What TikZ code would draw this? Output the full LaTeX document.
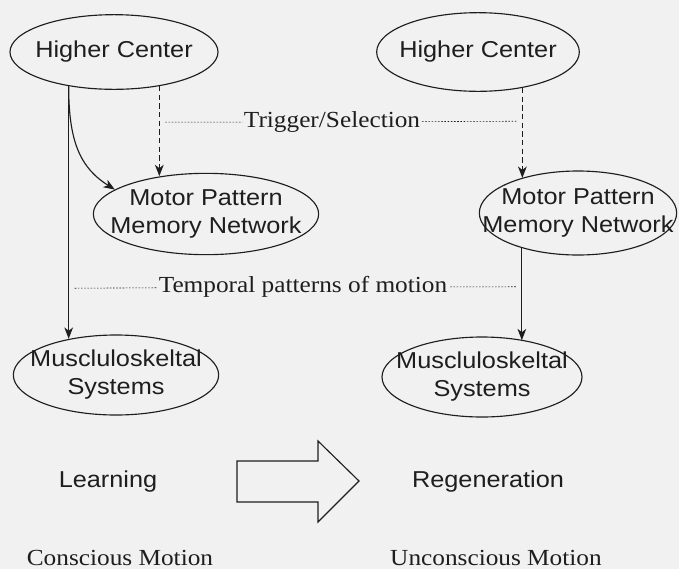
\documentclass[tikz,border=0pt]{standalone}
\usepackage{fontspec}
\setmainfont[FakeStretch=1.1]{Liberation Serif}
\setsansfont[FakeStretch=1.1]{Liberation Sans}
\usetikzlibrary{shapes.geometric,arrows.meta}
\definecolor{paper}{RGB}{241,241,241}
\definecolor{ink}{RGB}{30,30,30}
\newcommand{\tightline}[1]{\makebox[0pt]{#1}}
\begin{document}
\begin{tikzpicture}[x=0.75pt, y=-0.75pt,
  blob/.style={ellipse, draw=ink, line width=0.85pt, inner sep=0pt, align=center, text=ink,
    font=\sffamily\fontsize{17.25}{21}\selectfont},
  lbl/.style={inner sep=1pt, text=ink, font=\rmfamily\fontsize{17.25}{21}\selectfont},
  phase/.style={inner sep=1pt, text=ink, font=\sffamily\fontsize{17.25}{21}\selectfont},
  link/.style={draw=ink, line width=0.85pt, -{Stealth[length=8.5pt,width=6.5pt,inset=2.5pt]}},
  cue/.style={link, line width=1.2pt, dash pattern=on 4pt off 2.5pt},
  guide/.style={draw=ink, line width=0.45pt, dash pattern=on 1.2pt off 1.2pt, shorten <=4.5pt}]

% Paper
\fill[paper] (0,0) rectangle (679,569);
\useasboundingbox (0,0) rectangle (679,569);

% Draw ellipses
\node[blob, minimum width=156pt, minimum height=56pt] (hcL) at (114,52) {\tightline{Higher Center}};
\node[blob, minimum width=152pt, minimum height=59pt] (hcR) at (478,52) {\tightline{Higher Center}};
\node[blob, minimum width=169pt, minimum height=61pt] (mpL) at (206,214) {\tightline{Motor Pattern}\\\tightline{Memory Network}};
\node[blob, minimum width=148pt, minimum height=63pt] (mpR) at (578,213) {\tightline{Motor Pattern}\\\tightline{Memory Network}};
\node[blob, minimum width=154pt, minimum height=60pt] (msL) at (116,375) {\tightline{Muscluloskeltal}\\\tightline{Systems}};
\node[blob, minimum width=150pt, minimum height=60pt] (msR) at (482,377) {\tightline{Muscluloskeltal}\\\tightline{Systems}};

% Labels
\node[lbl] (trig) at (332,122) {Trigger/Selection};
\node[lbl] (temp) at (303,287) {Temporal patterns of motion};
\node[phase] (learn) at (108,482) {Learning};
\node[phase] (regen) at (488,482) {Regeneration};
\node[lbl] (consc) at (120,558) {Conscious Motion};
\node[lbl] (uncon) at (496,558) {Unconscious Motion};

% Left side: conscious motion
\draw[link] (hcL.217.7) -- coordinate[pos=0.8] (tempL) (msL.142.2 -| hcL.217.7);
\draw[link] (hcL.217.7) .. controls +(0,55) and +(-35,-22) .. (mpL.165.7);
\draw[cue] (hcL.323.9) -- coordinate[pos=0.4] (trigL) (mpL.140.9 -| hcL.323.9);

% Right side: unconscious motion
\draw[cue] (hcR.321) -- coordinate[pos=0.37] (trigR) (mpR.148.3 -| hcR.321);
\draw[link] (mpR.212.3) -- coordinate[pos=0.42] (tempR) (msR.41.7 -| mpR.212.3);

% Dotted guides to the labels
\draw[guide] (trigL) -- (trig);
\draw[guide] (trigR) -- (trig);
\draw[guide] (tempL) -- (temp);
\draw[guide] (tempR) -- (temp);

% Big arrow
\draw[ink, line width=0.85pt] (237,461) -- (318,461) -- (318,441) -- (359,481)
  -- (318,522) -- (318,502) -- (237,502) -- cycle;

\end{tikzpicture}
\end{document}
